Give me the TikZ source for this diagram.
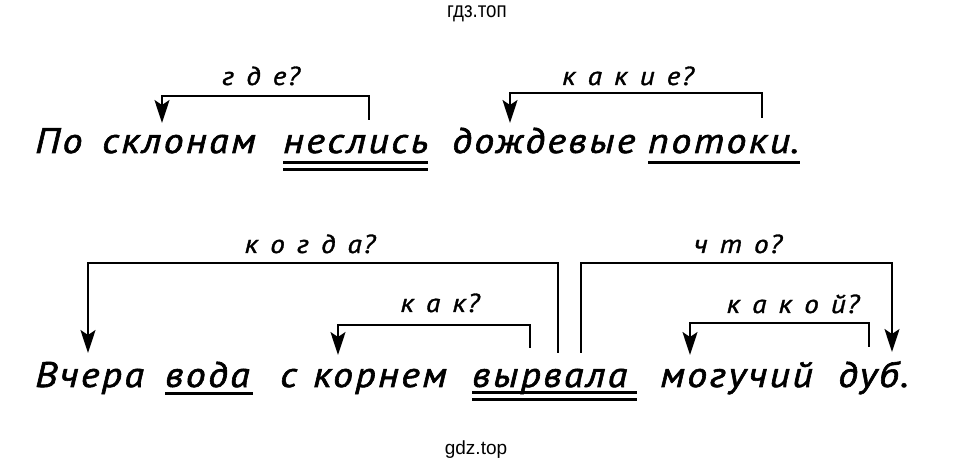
\documentclass[tikz,border=0pt]{standalone}
\usepackage{fontspec}
\setmainfont{PT Sans}
\newfontfamily\wordfont[LetterSpace=7,FakeStretch=1.12,FakeBold=1.7]{PT Sans Italic}
\newfontfamily\questfont[LetterSpace=6,WordSpace=1.3,FakeStretch=1.12,FakeBold=1.3]{PT Sans Italic}
\newfontfamily\markfont{Liberation Sans}
\usetikzlibrary{arrows.meta}

\tikzset{
  word/.style={anchor=base west, inner sep=0pt, font=\wordfont\fontsize{35.5}{40}\selectfont},
  quest/.style={anchor=base, inner sep=0pt, font=\questfont\fontsize{26}{30}\selectfont},
  link/.style={line width=2pt},
  ask/.style={link, -{Stealth[length=23pt,width=15pt,inset=5pt]}},
  uline/.style={line width=3pt},
}

\begin{document}
\begin{tikzpicture}[x=1pt,y=-1pt]
    \useasboundingbox (0,0) rectangle (954,470);
    \node[font=\markfont\fontsize{22}{24}\selectfont, xscale=0.85, transform shape] (mtop) at (477,14) {гдз.топ};
    \node[font=\markfont\fontsize{19}{21}\selectfont] (mbot) at (476,450) {gdz.top};

    % first sentence
    \node[word] (po) at (35,153) {По};
    \node[word] (sklonam) at (102,153) {склонам};
    \node[word] (neslis) at (283,153) {неслись};
    \node[word] (dozhd) at (452,153) {дождевые};
    \node[word] (potoki) at (648,153) {потоки};
    \node[word] (dot1) at (potoki.base east) {.};

    \draw[uline] (283,163)--(428,163);
    \draw[uline] (283,170)--(428,170);
    \draw[uline] (648,163)--(800,163);

    \coordinate (gde-s) at (369,120);
    \coordinate (gde-t) at (162,123);
    \draw[ask] (gde-s)--++(0,-24)-|(gde-t);
    \node[quest] (gde) at (261,85) {г д е?};

    \coordinate (kakie-s) at (762,118);
    \coordinate (kakie-t) at (510,123);
    \draw[ask] (kakie-s)--++(0,-25)-|(kakie-t);
    \node[quest] (kakie) at (628,85) {к а к и е?};

    % second sentence
    \node[word] (vchera) at (35,387) {Вчера};
    \node[word] (voda) at (165,387) {вода};
    \node[word] (s) at (280,387) {с};
    \node[word] (kornem) at (313,387) {корнем};
    \node[word] (vyrvala) at (472,387) {вырвала};
    \node[word] (moguch) at (660,387) {могучий};
    \node[word] (dub) at (838,387) {дуб.};

    \draw[uline] (165,394)--(253,394);
    \draw[uline] (472,393)--(637,393);
    \draw[uline] (472,400)--(637,400);

    \coordinate (kogda-s) at (558,353);
    \coordinate (kogda-t) at (88,353);
    \draw[ask] (kogda-s)--++(0,-90)-|(kogda-t);
    \node[quest] (kogda) at (310,253) {к о г д а?};

    \coordinate (kak-s) at (530,348);
    \coordinate (kak-t) at (338,355);
    \draw[ask] (kak-s)--++(0,-23)-|(kak-t);
    \node[quest] (kak) at (440,312) {к а к?};

    \coordinate (chto-s) at (581,353);
    \coordinate (chto-t) at (892,352);
    \draw[ask] (chto-s)--++(0,-90)-|(chto-t);
    \node[quest] (chto) at (738,253) {ч т о?};

    \coordinate (kakoy-s) at (869,347);
    \coordinate (kakoy-t) at (690,355);
    \draw[ask] (kakoy-s)--++(0,-24)-|(kakoy-t);
    \node[quest] (kakoy) at (793,313) {к а к о й?};
\end{tikzpicture}
\end{document}
